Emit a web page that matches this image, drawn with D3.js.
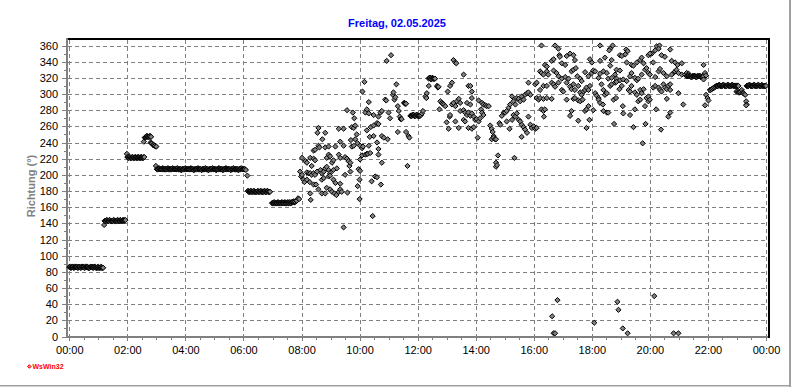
<!DOCTYPE html>
<html><head><meta charset="utf-8">
<script src="https://cdn.jsdelivr.net/npm/d3@7"></script>
<style>html,body{margin:0;padding:0;background:#fff;overflow:hidden}</style>
</head><body><svg id="c" width="792" height="387"></svg>
<script>
const chartTitle = "Freitag, 02.05.2025";
const yTitle = "Richtung (°)";
const logoText = "WsWin32";
const xTickLabels = ["00:00","02:00","04:00","06:00","08:00","10:00","12:00","14:00","16:00","18:00","20:00","22:00","00:00"];
const xTickMinutes = [0,120,240,360,480,600,720,840,960,1080,1200,1320,1440];
const yTickValues = [0,20,40,60,80,100,120,140,160,180,200,220,240,260,280,300,320,340,360];

// [minute of day, direction in degrees]
const night = [
[0,86],[1,86],[2,86],[3,85],[4,85],[5,86],[6,86],[7,86],[8,86],[9,85],[10,85],[11,86],[12,86],[13,86],[14,86],[15,86],[16,86],[17,85],[18,85],[19,86],[20,86],[21,86],[22,86],[23,85],[24,85],[25,86],[26,86],[27,86],[28,86],[29,86],[30,86],[31,85],[32,85],[33,86],[34,86],[35,86],[36,86],[37,86],[38,86],[39,85],[40,85],[41,85],[42,85],[43,86],[44,86],[45,86],[46,86],[47,86],[48,86],[49,85],[50,85],[51,86],[52,86],[53,86],[54,86],[55,85],[56,85],[57,85],[58,85],[59,86],[60,86],[61,85],[62,85],[63,85],[64,85],[65,86],[66,86],[67,85],[68,85],[69,85],[70,85],
[72,138],[73,143],[74,143],[75,143],[76,143],[77,144],[78,144],[79,143],[80,143],[81,143],[82,143],[83,144],[84,144],[85,143],[86,143],[87,143],[88,143],[89,143],[90,143],[91,144],[92,144],[93,143],[94,143],[95,143],[96,143],[97,143],[98,143],[99,144],[100,144],[101,143],[102,143],[103,143],[104,143],[105,144],[106,144],[107,143],[108,143],[109,143],[110,143],[111,144],[112,144],[113,143],[114,143],[115,144],[116,144],
[119,226],[120,222],[121,222],[122,221],[123,221],[124,222],[125,222],[126,221],[127,221],[128,221],[129,221],[130,222],[131,222],[132,221],[133,221],[134,221],[135,221],[136,222],[137,222],[138,221],[139,221],[140,221],[141,221],[142,222],[143,222],[144,221],[145,221],[146,221],[147,221],[148,222],[149,222],[150,221],[151,221],[152,221],[153,221],[154,222],[155,222],
[154,241],[156,246],[157,246],[158,247],[159,247],[160,248],[161,248],[162,247],[163,247],[164,247],[165,247],[166,248],[167,248],[168,247],[169,247],
[168,240],[170,239],[171,239],[173,237],[174,237],[176,236],[177,236],[179,235],[180,235],
[179,211],[181,207],[182,207],[183,207],[184,207],[185,208],[186,208],[187,207],[188,207],[189,207],[190,207],[191,207],[192,207],[193,208],[194,208],[195,207],[196,207],[197,207],[198,207],[199,207],[200,207],[201,207],[202,207],[203,208],[204,208],[205,207],[206,207],[207,207],[208,207],[209,207],[210,207],[211,207],[212,207],[213,208],[214,208],[215,207],[216,207],[217,207],[218,207],[219,207],[220,207],[221,207],[222,207],[223,208],[224,208],[225,207],[226,207],[227,207],[228,207],[229,207],[230,207],[231,206],[232,206],[233,207],[234,207],[235,207],[236,207],[237,207],[238,207],[239,208],[240,208],[241,207],[242,207],[243,207],[244,207],[245,207],[246,207],[247,207],[248,207],[249,207],[250,207],[251,208],[252,208],[253,207],[254,207],[255,207],[256,207],[257,206],[258,206],[259,207],[260,207],[261,207],[262,207],[263,207],[264,207],[265,208],[266,208],[267,207],[268,207],[269,207],[270,207],[271,207],[272,207],[273,206],[274,206],[275,207],[276,207],[277,207],[278,207],[279,207],[280,207],[281,208],[282,208],[283,207],[284,207],[285,207],[286,207],[287,206],[288,206],[289,207],[290,207],[291,207],[292,207],[293,207],[294,207],[295,208],[296,208],[297,207],[298,207],[299,207],[300,207],[301,207],[302,207],[303,206],[304,206],[305,207],[306,207],[307,207],[308,207],[309,208],[310,208],[311,207],[312,207],[313,207],[314,207],[315,207],[316,207],[317,206],[318,206],[319,207],[320,207],[321,207],[322,207],[323,208],[324,208],[325,207],[326,207],[327,207],[328,207],[329,207],[330,207],[331,207],[332,207],[333,206],[334,206],[335,207],[336,207],[337,207],[338,207],[339,208],[340,208],[341,207],[342,207],[343,207],[344,207],[345,207],[346,207],[347,207],[348,207],[349,206],[350,206],[351,207],[352,207],[353,207],[354,207],[355,208],[356,208],[357,207],[358,207],[359,207],[360,207],[361,207],[362,207],[363,207],[365,206],[368,199],
[369,180],[370,180],[371,179],[372,179],[373,179],[374,179],[375,180],[376,180],[377,179],[378,179],[379,179],[380,179],[381,180],[382,180],[383,179],[384,179],[385,179],[386,179],[387,179],[388,179],[389,180],[390,180],[391,179],[392,179],[393,179],[394,179],[395,180],[396,180],[397,179],[398,179],[399,179],[400,179],[401,179],[402,179],[403,180],[404,180],[405,179],[406,179],[407,179],[408,179],[409,180],[410,180],[411,179],[412,179],[413,179],[414,179],[415,179],
[419,165],[420,165],[421,165],[422,165],[423,166],[424,166],[425,165],[426,165],[427,165],[428,165],[429,165],[430,165],[431,166],[432,166],[433,165],[434,165],[435,165],[436,165],[437,165],[438,165],[439,166],[440,166],[441,165],[442,165],[443,165],[444,165],[445,166],[446,166],[447,165],[448,165],[449,165],[450,165],[451,166],[452,166],[453,165],[454,165],[455,166],[456,166],[457,165],[458,165],[459,166],[460,166],[461,166],[462,166],[463,167],[464,167],[465,166],[466,166],[467,167],[469,168],[470,168],[473,171]
];

const morning = [
[475,170],[477,204],[479,198],[481,221],[481,200],[484,194],[486,191],[488,217],[491,215],[491,203],[491,194],[495,202],[497,191],[498,221],[498,202],[498,177],[499,169],[501,211],[501,200],[505,220],[505,230],[505,202],[505,188],[508,231],[508,218],[508,200],[510,188],[512,204],[513,252],[515,258],[515,236],[515,182],[517,234],[519,206],[522,202],[522,194],[522,177],[523,244],[526,204],[526,196],[529,252],[529,234],[529,208],[529,177],[532,221],[532,210],[532,184],[536,235],[536,225],[536,206],[536,198],[539,223],[539,202],[539,199],[539,182],[543,215],[543,179],[546,218],[546,206],[546,194],[548,177],[550,235],[550,190],[552,175],[553,208],[557,257],[557,225],[557,179],[560,241],[560,221],[560,189],[560,182],[563,179],[567,257],[567,236],[567,135],[570,222],[570,200],[574,280],[574,220],[575,178],[577,217],[579,211],[581,215],[581,204],[582,243],[584,259],[584,235],[586,277],[588,258],[588,236],[589,270],[591,261],[591,244],[594,250],[596,239],[596,186],[598,207],[600,194],[600,170],[601,236],[601,219],[601,205],[605,233],[605,224],[606,303],[607,235],[610,315],[612,277],[612,225],[615,281],[615,255],[615,226],[617,226],[619,290],[619,276],[619,236],[621,247],[622,227],[623,259],[625,192],[627,149],[629,274],[629,261],[629,248],[632,198],[636,264],[636,240],[636,197],[639,272],[639,263],[639,232],[639,225],[643,277],[644,188],[646,279],[646,248],[646,215],[650,246],[653,293],[655,292],[656,341],[658,244],[660,277],[663,270],[665,348],[669,299],[670,302],[672,293],[674,296],[676,312],[679,285],[679,253],[681,279],[683,272],[685,269],[687,269],[692,289],[693,289],[694,288],[695,288],[696,288],[696,253],[699,211],[701,248],[703,246]
];

const midday = [
[705,273],[706,273],[707,273],[708,273],[709,274],[710,274],[711,274],[712,274],[713,273],[714,273],[715,273],[716,273],[717,274],[718,274],[719,274],[720,273],[721,273],[722,273],[723,273],[724,273],[725,273],[727,274],[729,276],[731,279],[736,297],[738,295],[739,301],[743,310],[743,319],[744,320],[745,320],[746,320],[747,319],[748,318],[749,319],[750,320],[751,320],[752,319],[753,319],[754,319],[755,319],[756,319],[760,310],[761,309],[762,308],[763,309],[765,281],[767,291],[770,289],[772,288],[774,287],[777,285],[780,265],[782,303],[784,257],[786,272],[787,310],[787,274],[791,314],[791,287],[794,342],[794,289],[798,339],[798,285],[798,266],[800,338],[801,291],[805,294],[805,258],[808,289],[808,279],[815,324],[815,280],[815,268],[818,277],[818,266],[822,289],[822,274],[825,310],[825,277],[825,258],[829,310],[829,287],[829,273],[832,303],[832,295],[832,276],[832,257],[836,272],[836,259],[839,268],[842,269],[844,246],[846,292],[846,266],[849,270],[851,281],[853,289],[853,277],[856,287],[856,274],[860,286],[863,285],[867,285],[870,261],[873,257],[873,244],[875,253],[877,248],[877,246],[880,244],[882,244],[882,215],[882,210],[884,212],[886,224],[889,264],[891,262],[894,273],[898,277],[901,277],[904,279],[904,266],[908,283],[910,257],[911,287],[915,297],[915,268],[918,291],[918,274],[920,221],[922,287],[922,272],[925,295],[925,276],[929,294],[929,268],[932,291],[932,266],[935,297],[935,262],[935,247],[939,293],[939,259],[942,299],[942,256],[946,301],[946,252],[949,302],[949,314],[949,272],[953,299],[953,262],[956,258],[960,260],[963,312],[963,257],[966,314],[966,295],[966,258],[970,293]
];

const afternoon = [
[976,360],[1004,360],[1011,356],[1097,360],[1123,360],[1118,356],[1116,354],[1151,355],[1154,353],[1149,349],[1138,348],[1142,347],[1214,359],[1220,360],[1218,356],[1211,354],[1204,350],
[983,336],[987,334],[997,341],[1001,343],[1013,348],[1014,346],[1018,338],[1025,336],[1028,347],[1035,350],[1042,348],[1045,342],[1080,339],[1076,343],[1097,341],[1107,345],[1121,342],[1118,335],[1131,330],[1138,329],[1152,339],[1162,336],[1166,335],[1173,339],[1180,342],[1183,345],[1187,338],[1197,348],[1200,350],[1207,339],[1224,348],[1231,346],
[973,328],[976,326],[980,324],[987,328],[990,324],[1001,329],[1007,326],[1011,322],[1018,319],[1025,321],[1032,319],[1038,328],[1042,330],[1047,332],[1050,322],[1056,319],[1059,316],[1066,327],[1073,322],[1080,326],[1083,329],[1087,328],[1094,320],[1097,325],[1104,328],[1111,326],[1114,319],[1121,320],[1128,324],[1131,319],[1138,317],[1145,318],[1152,316],[1159,322],[1162,326],[1169,320],[1173,317],[1176,319],[1183,324],[1190,330],[1193,332],[1197,326],[1200,324],[1211,321],[1218,328],[1221,331],[1228,326],[1235,322],
[973,305],[980,310],[987,310],[997,314],[1001,312],[1004,309],[1011,314],[1018,305],[1021,303],[1028,314],[1035,309],[1038,306],[1042,312],[1045,305],[1052,310],[1056,302],[1059,299],[1063,303],[1066,305],[1069,308],[1073,305],[1076,310],[1087,301],[1090,298],[1094,295],[1100,312],[1104,305],[1107,299],[1111,301],[1118,310],[1121,312],[1128,314],[1131,315],[1137,306],[1142,310],[1156,305],[1159,303],[1162,310],[1169,302],[1173,299],[1180,305],[1183,301],[1187,306],[1193,295],[1197,297],[1207,308],[1211,310],[1218,308],[1221,305],[1224,303],[1228,312],[1231,308],[1235,306],[1238,310],
[973,295],[980,294],[987,295],[997,294],[976,281],[980,279],[983,281],[981,272],[1028,293],[1042,294],[1045,295],[1052,292],[1056,291],[1061,293],[1066,279],[1069,281],[1073,285],[1083,280],[1094,293],[1097,289],[1103,287],[1104,279],[1111,277],[1114,277],[1125,293],[1130,295],[1144,285],[1145,276],[1159,274],[1169,281],[1176,291],[1180,293],[1190,285],[1197,291],[1200,293],[1213,281],[1235,294],[1238,272],
[1035,273],[1038,279],[1052,267],[1069,258],[1075,268],[1126,263],[1166,259],[1191,263],[1223,256],[1185,239],
[1009,45],[998,25],[1001,4],[1004,4],[1085,17],[1133,43],[1135,33],[1144,10],[1154,4],[1209,50],[1249,4],[1259,4]
];

const evening = [
[1242,355],[1245,341],[1252,339],[1257,336],[1266,338],[1311,336],[1249,326],[1252,328],[1255,330],[1245,324],[1259,326],[1266,324],[1273,324],[1276,326],[1280,325],
[1276,322],[1277,322],[1278,322],[1279,323],[1280,323],[1281,322],[1282,322],[1283,322],[1284,322],[1285,321],[1286,321],[1287,321],[1288,322],[1289,322],[1290,322],[1291,322],[1292,322],[1293,322],[1294,322],[1295,321],[1296,321],[1297,321],[1298,322],[1299,322],[1300,322],[1301,322],[1302,322],[1303,322],[1304,322],[1305,321],[1306,321],[1307,321],[1308,322],[1309,322],[1310,321],[1311,322],[1311,318],
[1314,326],[1316,323],[1242,312],[1242,305],[1259,301],[1269,287],[1242,277],
[1316,299],[1319,295],[1321,292],[1314,286],
[1324,305],[1326,305],[1328,306],[1330,307],[1331,307],[1333,308],[1335,309],
[1337,310],[1338,310],[1339,310],[1340,310],[1341,310],[1342,311],[1343,311],[1344,311],[1345,310],[1346,310],[1347,310],[1348,310],[1349,310],[1350,310],[1351,311],[1352,311],[1353,311],[1354,310],[1355,310],[1356,310],[1357,310],[1358,310],[1359,310],[1360,311],[1361,311],[1362,311],[1363,310],[1364,310],[1365,310],[1366,310],[1367,310],[1368,310],[1369,311],[1370,311],[1371,311],[1372,310],[1373,310],[1374,310],[1375,310],[1376,310],[1377,310],[1378,310],[1379,310],[1380,310],[1381,310],[1382,310],[1383,310],
[1379,303],[1381,303],[1383,302],[1385,302],[1386,302],[1388,303],[1390,305],[1392,302],[1393,301],[1395,300],[1397,299],
[1399,291],[1400,287],[1399,286],
[1400,310],[1401,310],[1402,310],[1403,310],[1404,310],[1405,311],[1406,311],[1407,311],[1408,310],[1409,310],[1410,310],[1411,310],[1412,310],[1413,310],[1414,311],[1415,311],[1416,311],[1417,310],[1418,310],[1419,310],[1420,310],[1421,310],[1422,310],[1423,311],[1424,311],[1425,311],[1426,310],[1427,310],[1428,310],[1429,310],[1430,310],[1431,311],[1432,311],[1433,310],[1434,310],[1435,310],[1436,310],[1437,310],[1438,310],[1439,310],[1440,310]
];

const FONT = "'Liberation Sans', Arial, sans-serif";
const svg = d3.select("#c");
const x = d3.scaleLinear().domain([0,1440]).range([69.3,766]);
const y = d3.scaleLinear().domain([0,360]).range([336.5,45.5]);

// outer frame lines (right / bottom)
svg.append("rect").attr("x",789).attr("y",0).attr("width",2).attr("height",387).attr("fill","#a0a0a0");
svg.append("rect").attr("x",0).attr("y",385).attr("width",791).attr("height",1.5).attr("fill","#a0a0a0");

// title
svg.append("text").attr("x",397).attr("y",26.5).attr("text-anchor","middle")
  .attr("font-family",FONT).attr("font-size",11).attr("font-weight","bold").attr("fill","#0000ff")
  .text(chartTitle);

// grid
const grid = svg.append("g").attr("stroke","#808080").attr("stroke-width",1)
  .attr("stroke-dasharray","4,3").attr("shape-rendering","crispEdges");
grid.selectAll("line.h").data(yTickValues.filter(v=>v>0)).join("line").attr("class","h")
  .attr("x1",67.5).attr("x2",767.5).attr("y1",d=>Math.round(y(d))+0.5).attr("y2",d=>Math.round(y(d))+0.5);
grid.selectAll("line.v").data(xTickMinutes).join("line").attr("class","v")
  .attr("y1",39.5).attr("y2",335.5).attr("x1",d=>Math.round(x(d))+0.5).attr("x2",d=>Math.round(x(d))+0.5);

// frame top/right
svg.append("line").attr("x1",65.5).attr("x2",769.5).attr("y1",38.5).attr("y2",38.5).attr("stroke","#000").attr("stroke-width",2).attr("shape-rendering","crispEdges");
svg.append("line").attr("x1",768.5).attr("x2",768.5).attr("y1",37.5).attr("y2",338).attr("stroke","#000").attr("stroke-width",2).attr("shape-rendering","crispEdges");

// y axis
const yAxis = svg.append("g").attr("transform","translate(66,0)")
  .call(d3.axisLeft(y).tickValues(yTickValues).tickSize(4).tickPadding(4));
yAxis.select(".domain").remove();
yAxis.selectAll(".tick line").attr("stroke","#808080").attr("shape-rendering","crispEdges");
yAxis.selectAll(".tick text").attr("font-family",FONT).attr("font-size",11).attr("fill","#000");
const yMinor = d3.range(10,360,20);
svg.append("g").selectAll("line").data(yMinor).join("line")
  .attr("x1",63.5).attr("x2",66).attr("y1",d=>Math.round(y(d))+0.5).attr("y2",d=>Math.round(y(d))+0.5)
  .attr("stroke","#808080").attr("shape-rendering","crispEdges");

// x axis
const xAxis = svg.append("g").attr("transform","translate(0,337)")
  .call(d3.axisBottom(x).tickValues(xTickMinutes).tickFormat((d,i)=>xTickLabels[i]).tickSize(4).tickPadding(5));
xAxis.select(".domain").remove();
xAxis.selectAll(".tick line").attr("stroke","#808080").attr("shape-rendering","crispEdges");
xAxis.selectAll(".tick text").attr("font-family",FONT).attr("font-size",11).attr("fill","#000");
const xMinor = d3.range(30,1440,30).filter(m=>m%120!==0);
svg.append("g").selectAll("line").data(xMinor).join("line")
  .attr("x1",d=>Math.round(x(d))+0.5).attr("x2",d=>Math.round(x(d))+0.5).attr("y1",337).attr("y2",339.5)
  .attr("stroke","#808080").attr("shape-rendering","crispEdges");

// axis lines (gray)
svg.append("line").attr("x1",66.5).attr("x2",66.5).attr("y1",38).attr("y2",337.5).attr("stroke","#808080").attr("stroke-width",2).attr("shape-rendering","crispEdges");
svg.append("line").attr("x1",65.5).attr("x2",768).attr("y1",336.5).attr("y2",336.5).attr("stroke","#808080").attr("stroke-width",2).attr("shape-rendering","crispEdges");

// y title
svg.append("text").attr("transform","translate(35,186) rotate(-90)").attr("text-anchor","middle")
  .attr("font-family",FONT).attr("font-size",11).attr("font-weight","bold").attr("fill","#808080")
  .text(yTitle);

// data points
const all = [].concat(night, morning, midday, afternoon, evening);
const diamond = "M0,-2.6L2.6,0L0,2.6L-2.6,0Z";
svg.append("g").selectAll("path").data(all).join("path")
  .attr("d",diamond).attr("transform",d=>`translate(${x(d[0])},${y(d[1])})`)
  .attr("fill","#808080").attr("stroke","#000").attr("stroke-width",1);

// logo
svg.append("path").attr("d","M0,-1.8L1.8,0L0,1.8L-1.8,0Z").attr("transform","translate(29.3,366.5)")
  .attr("fill","#ff8080").attr("stroke","#ff0000").attr("stroke-width",1);
svg.append("text").attr("x",32.5).attr("y",369).attr("font-family",FONT).attr("font-size",7)
  .attr("font-weight","bold").attr("fill","#ff0000").text(logoText);
</script></body></html>
